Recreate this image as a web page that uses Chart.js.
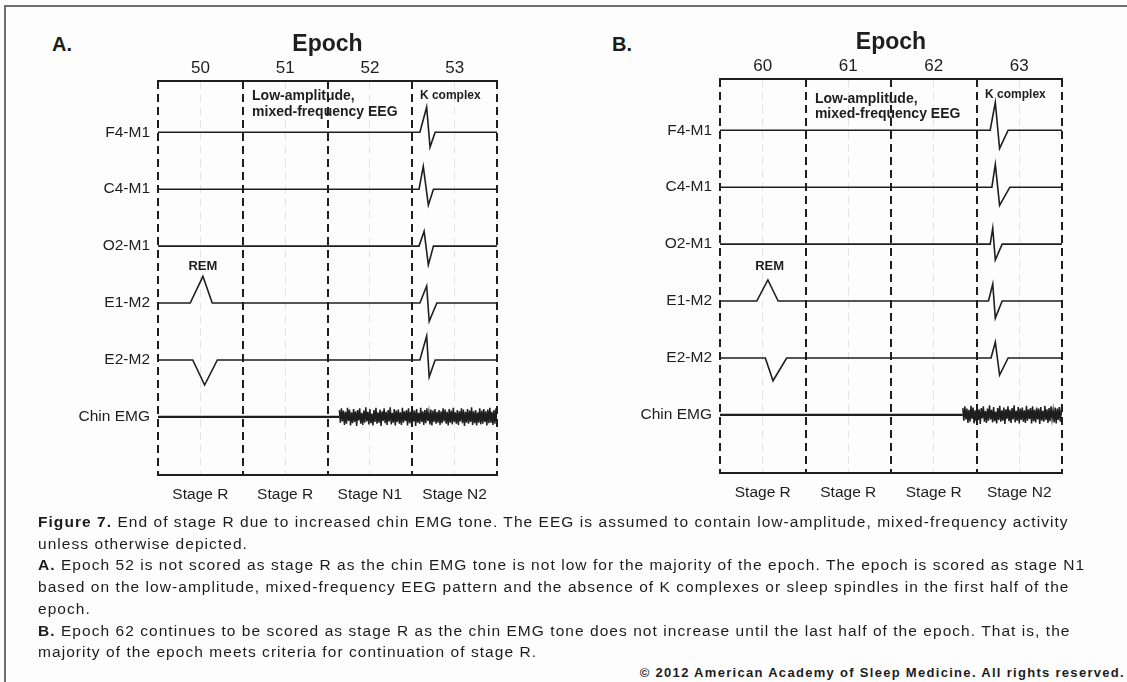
<!DOCTYPE html>
<html>
<head>
<meta charset="utf-8">
<script src="https://cdn.jsdelivr.net/npm/chart.js@4.4.1/dist/chart.umd.min.js"></script>
<style>
body{margin:0;background:#fdfdfd;width:1127px;height:682px;overflow:hidden;position:relative;font-family:'Liberation Sans',Arial,sans-serif;color:#1c1c1c}
#frame{position:absolute;left:4px;top:5px;width:1200px;height:700px;border-left:2px solid #707070;border-top:2px solid #707070}
.panel{position:absolute;font-weight:bold;font-size:20px}
canvas{position:absolute}
#caption{position:absolute;left:38px;top:511px;font-size:15.5px;line-height:21.7px;letter-spacing:1.05px;white-space:nowrap}
#copy{position:absolute;right:2px;top:665px;font-size:13px;letter-spacing:1.3px;font-weight:bold;white-space:nowrap}
</style>
</head>
<body>
<div id="frame"></div>
<div class="panel" style="left:52px;top:33px">A.</div>
<div class="panel" style="left:612px;top:33px">B.</div>
<canvas id="chartA" width="490" height="500" style="left:30px;top:20px"></canvas>
<canvas id="chartB" width="490" height="500" style="left:592px;top:18px"></canvas>
<div id="caption">
<div><b>Figure 7.</b> End of stage R due to increased chin EMG tone. The EEG is assumed to contain low-amplitude, mixed-frequency activity</div>
<div>unless otherwise depicted.</div>
<div><b>A.</b> Epoch 52 is not scored as stage R as the chin EMG tone is not low for the majority of the epoch. The epoch is scored as stage N1</div>
<div>based on the low-amplitude, mixed-frequency EEG pattern and the absence of K complexes or sleep spindles in the first half of the</div>
<div>epoch.</div>
<div><b>B.</b> Epoch 62 continues to be scored as stage R as the chin EMG tone does not increase until the last half of the epoch. That is, the</div>
<div>majority of the epoch meets criteria for continuation of stage R.</div>
</div>
<div id="copy">© 2012 American Academy of Sleep Medicine. All rights reserved.</div>
<script>
'use strict';

const channels = ['F4-M1', 'C4-M1', 'O2-M1', 'E1-M2', 'E2-M2', 'Chin EMG'];

const epochsA = ['50', '51', '52', '53'];
const stagesA = ['Stage R', 'Stage R', 'Stage N1', 'Stage N2'];
const epochsB = ['60', '61', '62', '63'];
const stagesB = ['Stage R', 'Stage R', 'Stage R', 'Stage N2'];

// K complex: start, peak, trough, end (in epochs) and peak / trough heights
const kxA = [[3.09, 3.17, 3.21, 3.27], [3.08, 3.13, 3.19, 3.25], [3.08, 3.14, 3.19, 3.25], [3.09, 3.17, 3.20, 3.29], [3.09, 3.17, 3.20, 3.27]];
const kyA = [[0.44, -0.26], [0.40, -0.28], [0.26, -0.33], [0.30, -0.32], [0.42, -0.30]];
const kxB = [[3.16, 3.22, 3.27, 3.37], [3.18, 3.22, 3.27, 3.39], [3.16, 3.19, 3.22, 3.30], [3.14, 3.19, 3.22, 3.30], [3.17, 3.22, 3.27, 3.37]];
const kyB = [[0.49, -0.32], [0.40, -0.32], [0.28, -0.28], [0.30, -0.30], [0.28, -0.30]];

// REM deflections on E1-M2 and E2-M2
const remXA = [[0.38, 0.53, 0.64], [0.41, 0.55, 0.70]];
const remYA = [0.47, -0.44];
const remXB = [[0.43, 0.56, 0.68], [0.53, 0.62, 0.78]];
const remYB = [0.37, -0.40];

// chin EMG: where the high tone starts, and the burst samples
const emgStartA = 2.14;
const emgStartB = 2.84;
const emgStep = 0.012;
const emgBurst = [
  0.12,-0.10,0.15,-0.08,0.11,-0.14,0.09,-0.12,0.16,-0.07,0.13,-0.15,0.08,-0.11,0.14,-0.09,0.10,-0.16,0.12,-0.06,
  0.15,-0.12,0.07,-0.14,0.11,-0.10,0.17,-0.08,0.09,-0.13,0.14,-0.11,0.06,-0.15,0.12,-0.09,0.16,-0.12,0.08,-0.10,
  0.13,-0.16,0.10,-0.07,0.15,-0.11,0.09,-0.14,0.12,-0.08,0.17,-0.13,0.07,-0.10,0.14,-0.15,0.11,-0.09,0.13,-0.12,
  0.08,-0.14,0.16,-0.10,0.10,-0.07,0.12,-0.15,0.15,-0.11,0.09,-0.13,0.13,-0.08,0.11,-0.16,0.14,-0.10,0.07,-0.12,
  0.16,-0.09,0.10,-0.14,0.12,-0.11,0.15,-0.07,0.08,-0.13,0.13,-0.15,0.11,-0.09,0.14,-0.12,0.09,-0.10,0.12,-0.14,
  0.10,-0.11,0.15,-0.08,0.13,-0.12,0.09,-0.15,0.14,-0.10,0.11,-0.13,0.16,-0.09,0.08,-0.12,0.12,-0.14,0.10,-0.08,
  0.15,-0.11,0.13,-0.16,0.09,-0.10,0.14,-0.12,0.11,-0.09,0.17,-0.14,0.10,-0.11,0.12,-0.15,0.08,-0.10,0.15,-0.13,
  0.11,-0.12,0.14,-0.09,0.10,-0.15,0.13,-0.11,0.16,-0.10,0.09,-0.14,0.12,-0.12,0.15,-0.08,0.11,-0.13
];

const FONT = "'Liberation Sans', Arial, sans-serif";
const INK = '#1e1e1e';

function trace(i, kx, ky, remX, remY){
    const base = -i;
    const pts = [{x: 0, y: base}];
    if(remX){
        pts.push({x: remX[0], y: base}, {x: remX[1], y: base + remY}, {x: remX[2], y: base});
    }
    pts.push({x: kx[0], y: base}, {x: kx[1], y: base + ky[0]}, {x: kx[2], y: base + ky[1]}, {x: kx[3], y: base}, {x: 4, y: base});
    return pts;
}

function emgTrace(start){
    const base = -5;
    const pts = [];
    for(let j = 0; j < emgBurst.length; j++){
        const x = start + j * emgStep;
        if(x > 4) break;
        pts.push({x: x, y: base + emgBurst[j]});
    }
    pts.push({x: 4, y: base});
    return pts;
}

const notesPlugin = {
    id: 'notes',
    afterDatasetsDraw(chart, args, opts){
        const c = chart.ctx;
        const sx = chart.scales.x, sy = chart.scales.y;
        c.save();
        c.fillStyle = INK;
        c.textBaseline = 'middle';
        opts.items.forEach(n => {
            c.font = 'bold ' + n.size + 'px ' + FONT;
            c.textAlign = n.align || 'left';
            c.fillText(n.text, sx.getPixelForValue(n.x), sy.getPixelForValue(n.y));
        });
        c.restore();
    }
};

function makePanel(id, cfg){
    const datasets = [];
    for(let i = 0; i < 5; i++){
        const r = i - 3;
        datasets.push({
            data: trace(i, cfg.kx[i], cfg.ky[i], r >= 0 ? cfg.remX[r] : null, r >= 0 ? cfg.remY[r] : 0),
            borderWidth: 1.6,
        });
    }
    datasets.push({data: [{x: 0, y: -5}, {x: cfg.emgStart, y: -5}], borderWidth: 2.2});
    datasets.push({data: emgTrace(cfg.emgStart), borderWidth: 1.5});
    datasets.forEach(d => {
        d.borderColor = INK;
        d.pointRadius = 0;
        d.tension = 0;
    });

    const halves = [0.5, 1.5, 2.5, 3.5];
    const all = [0, 0.5, 1, 1.5, 2, 2.5, 3, 3.5, 4];

    return new Chart(document.getElementById(id), {
        type: 'line',
        data: {datasets: datasets},
        plugins: [notesPlugin],
        options: {
            responsive: false,
            animation: false,
            devicePixelRatio: 1,
            layout: {padding: {left: 0, top: 0, bottom: 0, right: cfg.padRight}},
            plugins: {
                legend: {display: false},
                tooltip: {enabled: false},
                notes: {items: cfg.notes},
            },
            scales: {
                x: {
                    type: 'linear', position: 'bottom', min: 0, max: 4,
                    afterBuildTicks: s => { s.ticks = all.map(v => ({value: v})); },
                    afterFit: s => { s.height = 45; },
                    ticks: {
                        autoSkip: false, maxRotation: 0, minRotation: 0, padding: 10,
                        color: INK, font: {family: FONT, size: 15.5},
                        callback: v => Number.isInteger(v) ? '' : cfg.stages[Math.floor(v)],
                    },
                    grid: {
                        drawTicks: false,
                        color: c => Number.isInteger(c.tick.value) ? INK : '#e4e4e4',
                        lineWidth: c => Number.isInteger(c.tick.value) ? 2 : 1,
                    },
                    border: {display: true, color: INK, width: 2, dash: [8, 5]},
                },
                xTop: {
                    type: 'linear', position: 'top', min: 0, max: 4,
                    afterBuildTicks: s => { s.ticks = halves.map(v => ({value: v})); },
                    afterFit: s => { s.height = 61; },
                    ticks: {
                        autoSkip: false, maxRotation: 0, minRotation: 0, padding: 2,
                        color: INK, font: {family: FONT, size: 17},
                        callback: v => cfg.epochs[Math.floor(v)],
                    },
                    title: {
                        display: true, text: 'Epoch', color: INK,
                        font: {family: FONT, size: 23, weight: 'bold'},
                        padding: {top: 11, bottom: 0},
                    },
                    grid: {drawTicks: false, drawOnChartArea: false},
                    border: {display: true, color: INK, width: 2},
                },
                y: {
                    type: 'linear', min: -6.02, max: 0.9,
                    afterBuildTicks: s => { s.ticks = channels.map((c, i) => ({value: -i})); },
                    afterFit: s => { s.width = 128; },
                    ticks: {
                        padding: 8, color: INK, font: {family: FONT, size: 15.5},
                        callback: v => channels[Math.round(-v)],
                    },
                    grid: {display: false, drawTicks: false},
                    border: {display: false},
                },
            },
        },
    });
}

makePanel('chartA', {
    epochs: epochsA, stages: stagesA, kx: kxA, ky: kyA, remX: remXA, remY: remYA,
    emgStart: emgStartA, padRight: 23,
    notes: [
        {text: 'Low-amplitude,', x: 1.11, y: 0.64, size: 14},
        {text: 'mixed-frequency EEG', x: 1.11, y: 0.36, size: 14},
        {text: 'K complex', x: 3.09, y: 0.64, size: 12},
        {text: 'REM', x: 0.53, y: -2.35, size: 13, align: 'center'},
    ],
});

makePanel('chartB', {
    epochs: epochsB, stages: stagesB, kx: kxB, ky: kyB, remX: remXB, remY: remYB,
    emgStart: emgStartB, padRight: 20,
    notes: [
        {text: 'Low-amplitude,', x: 1.11, y: 0.55, size: 14},
        {text: 'mixed-frequency EEG', x: 1.11, y: 0.28, size: 14},
        {text: 'K complex', x: 3.1, y: 0.62, size: 12},
        {text: 'REM', x: 0.58, y: -2.40, size: 13, align: 'center'},
    ],
});
</script>
</body>
</html>
